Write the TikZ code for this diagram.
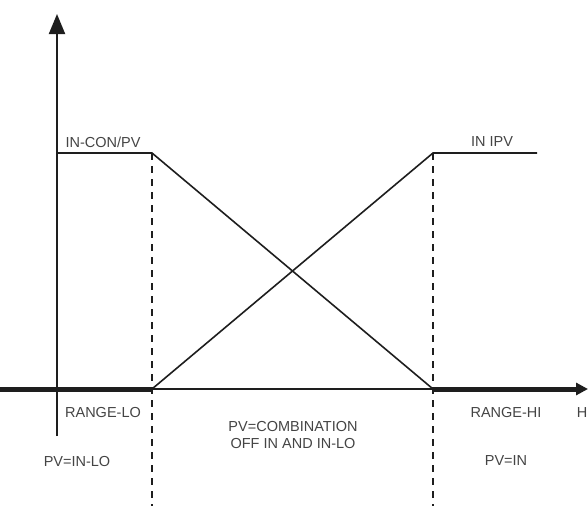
\documentclass[tikz,border=0pt]{standalone}
\usepackage{fontspec}
\setmainfont{Liberation Sans}
\usetikzlibrary{arrows.meta}
\definecolor{ink}{HTML}{1E1E1E}
\definecolor{txt}{HTML}{444444}
\begin{document}
\begin{tikzpicture}[x=1pt,y=-1pt,
  lbl/.style={text=txt,font=\fontsize{14.5}{17}\selectfont,inner sep=0pt,align=center},
  curve/.style={draw=ink,line width=1.6pt},
  thickaxis/.style={draw=ink,line width=5pt},
  thinaxis/.style={draw=ink,line width=1.6pt},
  guide/.style={draw=ink,line width=2pt,dash pattern=on 7pt off 6pt}]
\useasboundingbox (0,0) rectangle (588,506);
% key points
\coordinate (yb) at (57,436);
\coordinate (yt) at (57,14);
\coordinate (xl) at (0,389);
\coordinate (lo) at (152,389);
\coordinate (hi) at (433,389);
\coordinate (xr) at (588,389);
\coordinate (pl) at (57,153);
\coordinate (tl) at (152,153);
\coordinate (tr) at (433,153);
\coordinate (pr) at (537,153);
\coordinate (dl) at (152,506);
\coordinate (dr) at (433,506);
% axes
\draw[draw=ink,line width=2pt,-{Triangle[length=20pt,width=16pt]}] (yb) -- (yt);
\draw[thickaxis] (xl) -- (lo);
\draw[thinaxis] (lo) -- (hi);
\draw[thickaxis,-{Triangle[length=12pt,width=12pt]}] (hi) -- (xr);
% guides
\draw[guide] (tl) -- (dl);
\draw[guide] (tr) -- (dr);
% curves
\draw[curve] (pl) -- (tl) -- (hi);
\draw[curve] (lo) -- (tr) -- (pr);
% labels
\node[lbl] (incon) at (103,142) {IN-CON/PV};
\node[lbl] (inipv) at (492,142) {IN IPV};
\node[lbl] (rlo) at (103,413) {RANGE-LO};
\node[lbl] (rhi) at (506,413) {RANGE-HI};
\node[lbl,anchor=east] (h) at (587.5,413) {H};
\node[lbl] (comb) at (293,435) {PV=COMBINATION\\OFF IN AND IN-LO};
\node[lbl] (pvlo) at (77,461) {PV=IN-LO};
\node[lbl] (pvin) at (506,461) {PV=IN};
\end{tikzpicture}
\end{document}
